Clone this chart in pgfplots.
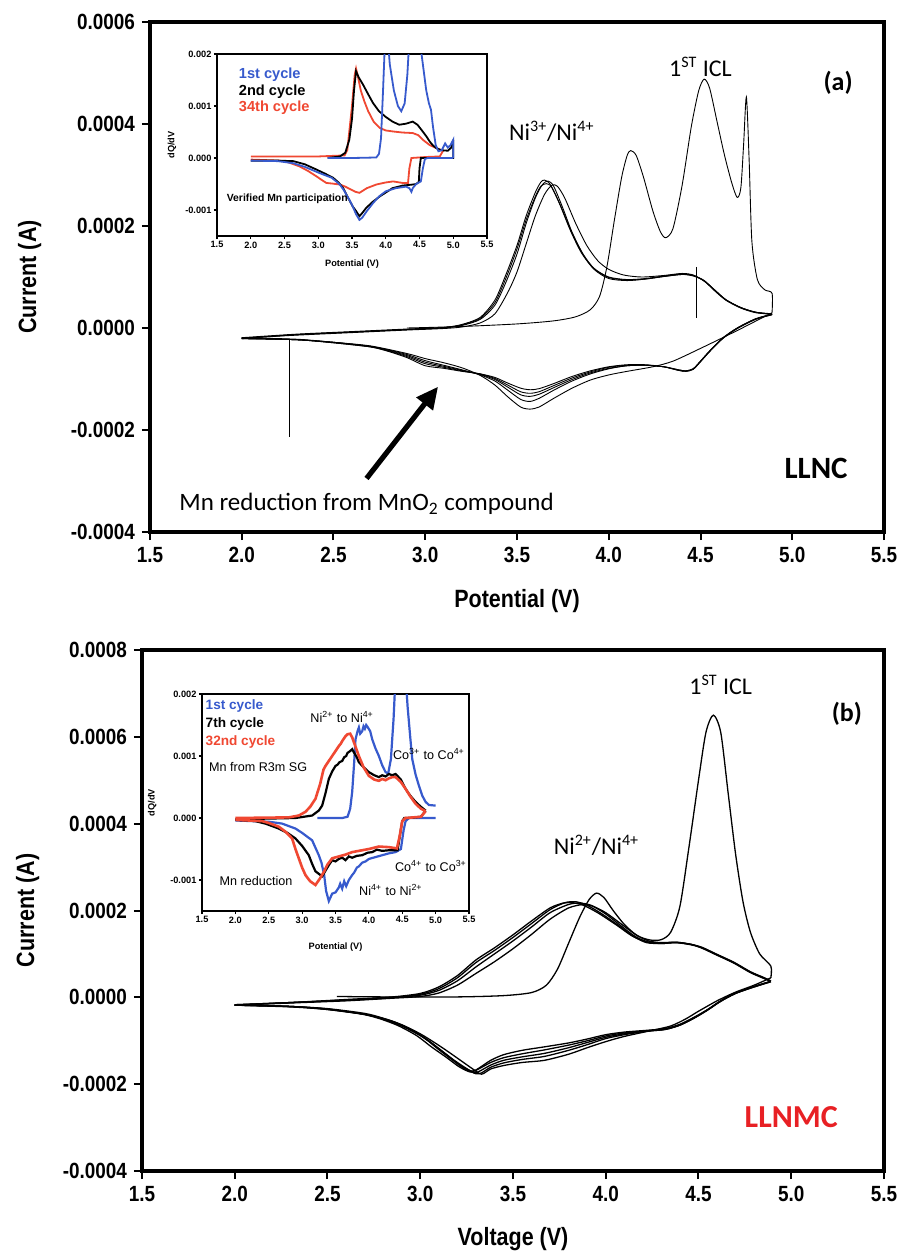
\documentclass[border=0pt]{standalone}
\usepackage{pgfplots}
\pgfplotsset{compat=1.18}
\usepackage{fontspec}
\setmainfont{Liberation Sans}
\newfontfamily\narrowsans[FakeStretch=0.86]{Liberation Sans}
\newfontfamily\calib{Carlito}
\usetikzlibrary{arrows.meta}
\definecolor{cycblue}{RGB}{55,90,205}
\definecolor{cycred}{RGB}{240,72,50}
\definecolor{labred}{RGB}{232,32,36}

\pgfplotsset{
  cvmain/.style={
    scale only axis,
    xmin=1.5, xmax=5.5,
    xtick={1.5,2.0,2.5,3.0,3.5,4.0,4.5,5.0,5.5},
    tick align=outside, tick pos=left,
    major tick length=4pt,
    axis line style={line width=2pt},
    every tick/.style={black, line width=1pt},
    /pgf/number format/assume math mode=true,
    ticklabel style={font=\narrowsans\bfseries\fontsize{11}{13}\selectfont},
    xticklabel style={/pgf/number format/fixed, /pgf/number format/fixed zerofill, /pgf/number format/precision=1},
    yticklabel style={/pgf/number format/fixed, /pgf/number format/fixed zerofill, /pgf/number format/precision=4},
    scaled y ticks=false,
    label style={font=\narrowsans\bfseries\fontsize{12.5}{14}\selectfont},
  },
  cvinset/.style={
    scale only axis,
    xmin=1.5, xmax=5.5, ymin=-0.0015, ymax=0.002,
    xtick={1.5,2.0,2.5,3.0,3.5,4.0,4.5,5.0,5.5},
    ytick={-0.001,0,0.001,0.002},
    tick align=outside, tick pos=left,
    major tick length=1.6pt,
    axis line style={line width=1.4pt},
    every tick/.style={black, line width=0.6pt},
    axis background/.style={fill=white},
    /pgf/number format/assume math mode=true,
    ticklabel style={font=\bfseries\fontsize{4.6}{5}\selectfont, inner sep=1pt},
    xticklabel style={/pgf/number format/fixed, /pgf/number format/fixed zerofill, /pgf/number format/precision=1},
    yticklabel style={/pgf/number format/fixed, /pgf/number format/fixed zerofill, /pgf/number format/precision=3},
    scaled y ticks=false,
    label style={font=\bfseries\fontsize{4.6}{5}\selectfont},
  },
  cyc/.style={black, line width=0.45pt, smooth, tension=0.45},
  cycb/.style={black, line width=0.65pt, smooth, tension=0.45},
}

\begin{document}
\begin{tikzpicture}
\path[use as bounding box] (0pt,0pt) rectangle (452pt,-627.5pt);

%% ---------------- panel (a): LLNC ----------------
\begin{axis}[cvmain, at={(75pt,-266pt)}, anchor=south west,
  width=367pt, height=255pt,
  ymin=-0.0004, ymax=0.0006,
  ytick={-0.0004,-0.0002,0,0.0002,0.0004,0.0006},
  xlabel={Potential (V)}, ylabel={Current (A)},
  xlabel style={at={(axis description cs:0.5,-0.135)}, anchor=center},
  ylabel style={at={(axis description cs:-0.164,0.5)}, anchor=center},
]
% first charge
\addplot[cyc] coordinates {(2.90,0.00)(3.20,0.03e-4)(3.50,0.08e-4)(3.70,0.14e-4)(3.82,0.22e-4)(3.90,0.36e-4)(3.95,0.62e-4)(3.99,1.20e-4)(4.03,2.10e-4)(4.07,2.95e-4)(4.10,3.38e-4)(4.12,3.48e-4)(4.15,3.38e-4)(4.19,2.95e-4)(4.24,2.30e-4)(4.28,1.90e-4)(4.31,1.77e-4)(4.35,1.95e-4)(4.40,2.80e-4)(4.45,3.95e-4)(4.49,4.65e-4)(4.52,4.88e-4)(4.55,4.70e-4)(4.59,4.05e-4)(4.63,3.40e-4)(4.67,2.85e-4)(4.70,2.56e-4)(4.72,2.75e-4)(4.735,3.60e-4)(4.75,4.53e-4)(4.765,3.30e-4)(4.78,1.70e-4)(4.81,0.95e-4)(4.85,0.75e-4)(4.89,0.68e-4)(4.89,0.30e-4)};
% first discharge
\addplot[cyc] coordinates {(4.89,0.30e-4)(4.70,-0.05e-4)(4.50,-0.40e-4)(4.35,-0.65e-4)(4.24,-0.76e-4)(4.10,-0.85e-4)(4.00,-0.92e-4)(3.90,-1.02e-4)(3.80,-1.18e-4)(3.70,-1.38e-4)(3.62,-1.55e-4)(3.57,-1.59e-4)(3.52,-1.55e-4)(3.45,-1.35e-4)(3.38,-1.12e-4)(3.30,-0.93e-4)(3.20,-0.78e-4)(3.10,-0.68e-4)(3.00,-0.60e-4)(2.90,-0.50e-4)(2.70,-0.35e-4)(2.50,-0.28e-4)(2.30,-0.22e-4)(2.00,-0.19e-4)};
% later charges
\addplot[cyc] coordinates {(2.00,-0.20e-4)(2.30,-0.14e-4)(2.60,-0.09e-4)(2.90,-0.04e-4)(3.10,-0.01e-4)(3.20,0.02e-4)(3.30,0.10e-4)(3.38,0.28e-4)(3.45,0.70e-4)(3.50,1.10e-4)(3.55,1.65e-4)(3.60,2.20e-4)(3.65,2.62e-4)(3.69,2.80e-4)(3.72,2.78e-4)(3.76,2.55e-4)(3.82,2.05e-4)(3.88,1.62e-4)(3.94,1.32e-4)(4.00,1.15e-4)(4.08,1.04e-4)(4.18,1.00e-4)(4.30,1.03e-4)(4.40,1.07e-4)(4.46,1.04e-4)(4.52,0.92e-4)(4.58,0.74e-4)(4.64,0.55e-4)(4.72,0.40e-4)(4.80,0.31e-4)(4.89,0.27e-4)};
\addplot[cyc] coordinates {(2.00,-0.20e-4)(2.30,-0.13e-4)(2.60,-0.08e-4)(2.90,-0.03e-4)(3.10,0.00)(3.20,0.05e-4)(3.30,0.17e-4)(3.38,0.45e-4)(3.44,0.90e-4)(3.50,1.45e-4)(3.55,2.05e-4)(3.60,2.55e-4)(3.64,2.82e-4)(3.67,2.88e-4)(3.70,2.78e-4)(3.75,2.35e-4)(3.80,1.88e-4)(3.86,1.45e-4)(3.92,1.17e-4)(4.00,1.00e-4)(4.10,0.95e-4)(4.20,0.97e-4)(4.30,1.02e-4)(4.40,1.06e-4)(4.46,1.03e-4)(4.52,0.92e-4)(4.58,0.72e-4)(4.64,0.54e-4)(4.72,0.39e-4)(4.80,0.30e-4)(4.89,0.27e-4)};
\addplot[cyc] coordinates {(2.00,-0.21e-4)(2.30,-0.13e-4)(2.60,-0.08e-4)(2.90,-0.03e-4)(3.10,0.01e-4)(3.20,0.06e-4)(3.30,0.19e-4)(3.38,0.50e-4)(3.44,0.98e-4)(3.50,1.55e-4)(3.55,2.12e-4)(3.60,2.58e-4)(3.63,2.78e-4)(3.66,2.83e-4)(3.69,2.76e-4)(3.74,2.38e-4)(3.80,1.86e-4)(3.86,1.44e-4)(3.92,1.16e-4)(4.00,0.99e-4)(4.10,0.94e-4)(4.20,0.96e-4)(4.30,1.01e-4)(4.40,1.05e-4)(4.46,1.03e-4)(4.52,0.93e-4)(4.58,0.73e-4)(4.64,0.55e-4)(4.72,0.40e-4)(4.80,0.31e-4)(4.89,0.28e-4)};
\addplot[cyc] coordinates {(2.00,-0.19e-4)(2.30,-0.12e-4)(2.60,-0.07e-4)(2.90,-0.02e-4)(3.10,0.01e-4)(3.20,0.07e-4)(3.30,0.21e-4)(3.38,0.55e-4)(3.44,1.05e-4)(3.50,1.62e-4)(3.55,2.20e-4)(3.60,2.66e-4)(3.63,2.86e-4)(3.65,2.90e-4)(3.68,2.82e-4)(3.73,2.45e-4)(3.79,1.92e-4)(3.85,1.48e-4)(3.92,1.15e-4)(4.00,0.97e-4)(4.10,0.93e-4)(4.20,0.96e-4)(4.30,1.01e-4)(4.40,1.05e-4)(4.46,1.02e-4)(4.52,0.93e-4)(4.58,0.73e-4)(4.64,0.55e-4)(4.72,0.40e-4)(4.80,0.31e-4)(4.89,0.27e-4)};
% later discharges
\addplot[cyc] coordinates {(4.89,0.27e-4)(4.80,0.18e-4)(4.70,0.00)(4.62,-0.20e-4)(4.55,-0.45e-4)(4.50,-0.65e-4)(4.46,-0.80e-4)(4.42,-0.84e-4)(4.38,-0.82e-4)(4.30,-0.76e-4)(4.20,-0.73e-4)(4.10,-0.74e-4)(4.00,-0.80e-4)(3.90,-0.90e-4)(3.80,-1.04e-4)(3.70,-1.22e-4)(3.62,-1.38e-4)(3.57,-1.44e-4)(3.52,-1.40e-4)(3.45,-1.22e-4)(3.38,-1.04e-4)(3.30,-0.92e-4)(3.20,-0.82e-4)(3.10,-0.73e-4)(3.00,-0.64e-4)(2.90,-0.52e-4)(2.80,-0.43e-4)(2.70,-0.36e-4)(2.50,-0.28e-4)(2.30,-0.23e-4)(2.00,-0.20e-4)};
\addplot[cyc] coordinates {(4.89,0.27e-4)(4.80,0.18e-4)(4.70,0.00)(4.62,-0.20e-4)(4.55,-0.45e-4)(4.50,-0.65e-4)(4.46,-0.80e-4)(4.42,-0.84e-4)(4.38,-0.82e-4)(4.30,-0.76e-4)(4.20,-0.73e-4)(4.10,-0.74e-4)(4.00,-0.79e-4)(3.90,-0.88e-4)(3.80,-1.01e-4)(3.70,-1.17e-4)(3.62,-1.30e-4)(3.57,-1.34e-4)(3.52,-1.31e-4)(3.45,-1.16e-4)(3.38,-1.01e-4)(3.30,-0.91e-4)(3.20,-0.83e-4)(3.10,-0.75e-4)(3.00,-0.67e-4)(2.90,-0.54e-4)(2.80,-0.44e-4)(2.70,-0.36e-4)(2.50,-0.28e-4)(2.30,-0.23e-4)(2.00,-0.20e-4)};
\addplot[cyc] coordinates {(4.89,0.26e-4)(4.80,0.17e-4)(4.70,-0.01e-4)(4.62,-0.21e-4)(4.55,-0.46e-4)(4.50,-0.66e-4)(4.46,-0.81e-4)(4.42,-0.85e-4)(4.38,-0.83e-4)(4.30,-0.76e-4)(4.20,-0.73e-4)(4.10,-0.73e-4)(4.00,-0.77e-4)(3.90,-0.86e-4)(3.80,-0.98e-4)(3.70,-1.13e-4)(3.62,-1.25e-4)(3.57,-1.28e-4)(3.52,-1.25e-4)(3.45,-1.12e-4)(3.38,-0.99e-4)(3.30,-0.90e-4)(3.20,-0.84e-4)(3.10,-0.77e-4)(3.00,-0.70e-4)(2.90,-0.56e-4)(2.80,-0.45e-4)(2.70,-0.37e-4)(2.50,-0.29e-4)(2.30,-0.23e-4)(2.00,-0.21e-4)};
\addplot[cyc] coordinates {(4.89,0.26e-4)(4.80,0.17e-4)(4.70,-0.01e-4)(4.62,-0.21e-4)(4.55,-0.46e-4)(4.50,-0.66e-4)(4.46,-0.81e-4)(4.42,-0.85e-4)(4.38,-0.83e-4)(4.30,-0.76e-4)(4.20,-0.72e-4)(4.10,-0.72e-4)(4.00,-0.76e-4)(3.90,-0.84e-4)(3.80,-0.95e-4)(3.70,-1.09e-4)(3.62,-1.19e-4)(3.57,-1.21e-4)(3.52,-1.18e-4)(3.45,-1.08e-4)(3.38,-0.97e-4)(3.30,-0.90e-4)(3.20,-0.85e-4)(3.10,-0.79e-4)(3.00,-0.74e-4)(2.90,-0.58e-4)(2.80,-0.46e-4)(2.70,-0.37e-4)(2.50,-0.29e-4)(2.30,-0.23e-4)(2.00,-0.21e-4)};
% spikes
\addplot[black, line width=0.45pt] coordinates {(2.26,-0.21e-4)(2.26,-2.14e-4)};
\addplot[black, line width=0.45pt] coordinates {(4.48,1.20e-4)(4.48,0.20e-4)};
% annotations
\node[font=\calib\fontsize{12}{13}\selectfont] at (axis cs:4.50,5.12e-4) {1\textsuperscript{ST} ICL};
\node[font=\calib\bfseries\fontsize{13}{14}\selectfont] at (axis cs:5.25,4.80e-4) {(a)};
\node[font=\calib\fontsize{12}{13}\selectfont] at (axis cs:3.69,3.86e-4) {Ni\textsuperscript{3+}/Ni\textsuperscript{4+}};
\node[font=\calib\bfseries\fontsize{15.5}{17}\selectfont] at (axis cs:5.13,-2.75e-4) {LLNC};
\node[font=\calib\fontsize{12.5}{14}\selectfont] at (axis cs:2.68,-3.45e-4) {Mn reduction from MnO\textsubscript{2} compound};
\draw[-{Triangle[length=11pt,width=10pt]}, line width=2.6pt] (axis cs:2.68,-2.95e-4) -- (axis cs:3.07,-1.15e-4);
\end{axis}

%% inset (a): dQ/dV
\begin{axis}[cvinset, at={(108.5pt,-118pt)}, anchor=south west,
  width=135pt, height=91pt,
  xlabel={Potential (V)}, ylabel={dQ/dV},
  xlabel style={at={(axis description cs:0.5,-0.155)}, anchor=center},
  ylabel style={at={(axis description cs:-0.167,0.5)}, anchor=center},
]
% 34th cycle
\addplot[cycred, line width=0.9pt] coordinates {(2.00,0.03e-3)(3.00,0.03e-3)(3.39,0.05e-3)(3.43,0.15e-3)(3.46,0.51e-3)(3.50,1.00e-3)(3.54,1.60e-3)(3.56,1.72e-3)(3.59,1.55e-3)(3.63,1.30e-3)(3.68,1.10e-3)(3.74,0.90e-3)(3.82,0.70e-3)(3.91,0.58e-3)(4.00,0.53e-3)(4.11,0.51e-3)(4.25,0.49e-3)(4.40,0.48e-3)(4.48,0.44e-3)(4.55,0.35e-3)(4.65,0.25e-3)(4.75,0.19e-3)(4.85,0.14e-3)};
\addplot[cycred, line width=0.9pt] coordinates {(4.85,0.14e-3)(4.80,0.03e-3)(4.60,0.02e-3)(4.38,0.00)(4.35,-0.20e-3)(4.33,-0.48e-3)(4.25,-0.48e-3)(4.11,-0.45e-3)(4.00,-0.47e-3)(3.86,-0.51e-3)(3.72,-0.58e-3)(3.61,-0.67e-3)(3.55,-0.65e-3)(3.49,-0.61e-3)(3.40,-0.55e-3)(3.32,-0.51e-3)(3.20,-0.49e-3)(3.12,-0.48e-3)(3.05,-0.42e-3)(2.97,-0.35e-3)(2.85,-0.25e-3)(2.72,-0.16e-3)(2.55,-0.08e-3)(2.43,-0.05e-3)(2.00,-0.03e-3)};
% 2nd cycle
\addplot[black, line width=0.9pt] coordinates {(3.14,0.00)(3.32,0.03e-3)(3.40,0.10e-3)(3.46,0.35e-3)(3.50,0.75e-3)(3.53,1.30e-3)(3.56,1.67e-3)(3.60,1.55e-3)(3.66,1.42e-3)(3.73,1.25e-3)(3.81,1.06e-3)(3.90,0.90e-3)(4.00,0.79e-3)(4.10,0.70e-3)(4.20,0.64e-3)(4.30,0.66e-3)(4.40,0.70e-3)(4.47,0.64e-3)(4.53,0.54e-3)(4.60,0.42e-3)(4.65,0.32e-3)(4.70,0.24e-3)(4.75,0.19e-3)(4.82,0.15e-3)(4.92,0.14e-3)(4.97,0.20e-3)(5.00,0.35e-3)};
\addplot[black, line width=0.9pt] coordinates {(5.00,0.35e-3)(5.00,0.00)(4.52,0.00)(4.50,-0.20e-3)(4.49,-0.46e-3)(4.45,-0.50e-3)(4.40,-0.51e-3)(4.25,-0.53e-3)(4.10,-0.58e-3)(3.91,-0.74e-3)(3.80,-0.85e-3)(3.71,-0.96e-3)(3.65,-1.06e-3)(3.61,-1.12e-3)(3.56,-1.02e-3)(3.51,-0.93e-3)(3.44,-0.76e-3)(3.37,-0.58e-3)(3.30,-0.47e-3)(3.22,-0.38e-3)(3.10,-0.30e-3)(2.97,-0.22e-3)(2.80,-0.12e-3)(2.63,-0.06e-3)(2.40,-0.05e-3)(2.00,-0.05e-3)};
% 1st cycle
\addplot[cycblue, line width=0.9pt] coordinates {(3.14,0.00)(3.50,0.00)(3.86,0.01e-3)(3.90,0.08e-3)(3.93,0.38e-3)(3.96,1.30e-3)(3.99,2.30e-3)(4.01,2.60e-3)(4.03,2.30e-3)(4.06,1.80e-3)(4.12,1.30e-3)(4.18,1.00e-3)(4.23,0.90e-3)(4.28,1.05e-3)(4.32,1.60e-3)(4.35,2.30e-3)(4.42,2.80e-3)(4.50,2.40e-3)(4.53,2.00e-3)(4.56,1.70e-3)(4.60,1.30e-3)(4.64,1.05e-3)(4.67,0.93e-3)(4.70,0.60e-3)(4.74,0.25e-3)(4.78,0.13e-3)(4.83,0.15e-3)(4.88,0.28e-3)(4.92,0.20e-3)(4.96,0.25e-3)(5.00,0.35e-3)(5.00,0.00)};
\addplot[cycblue, line width=0.9pt] coordinates {(5.00,0.00)(4.62,0.00)(4.58,-0.02e-3)(4.55,-0.20e-3)(4.52,-0.45e-3)(4.45,-0.50e-3)(4.40,-0.58e-3)(4.38,-0.65e-3)(4.35,-0.58e-3)(4.30,-0.55e-3)(4.15,-0.58e-3)(4.00,-0.64e-3)(3.90,-0.74e-3)(3.81,-0.87e-3)(3.72,-1.02e-3)(3.65,-1.15e-3)(3.61,-1.19e-3)(3.56,-1.08e-3)(3.50,-0.90e-3)(3.45,-0.78e-3)(3.38,-0.62e-3)(3.32,-0.51e-3)(3.20,-0.38e-3)(3.02,-0.29e-3)(2.80,-0.17e-3)(2.63,-0.10e-3)(2.40,-0.06e-3)(2.00,-0.05e-3)};
\node[anchor=west, font=\bfseries\fontsize{7.3}{8}\selectfont, text=cycblue] at (axis cs:1.72,1.60e-3) {1st cycle};
\node[anchor=west, font=\bfseries\fontsize{7.3}{8}\selectfont] at (axis cs:1.72,1.28e-3) {2nd cycle};
\node[anchor=west, font=\bfseries\fontsize{7.3}{8}\selectfont, text=cycred] at (axis cs:1.72,0.97e-3) {34th cycle};
\node[anchor=west, font=\bfseries\fontsize{5.2}{6}\selectfont, inner sep=0pt] at (axis cs:1.64,-0.79e-3) {Verified Mn participation};
\end{axis}

%% ---------------- panel (b): LLNMC ----------------
\begin{axis}[cvmain, at={(71pt,-585.5pt)}, anchor=south west,
  width=371pt, height=260.5pt,
  ymin=-0.0004, ymax=0.0008,
  ytick={-0.0004,-0.0002,0,0.0002,0.0004,0.0006,0.0008},
  xlabel={Voltage (V)}, ylabel={Current (A)},
  xlabel style={at={(axis description cs:0.5,-0.13)}, anchor=center},
  ylabel style={at={(axis description cs:-0.154,0.5)}, anchor=center},
]
% first charge
\addplot[cycb] coordinates {(2.55,0.02e-4)(2.80,0.01e-4)(3.20,0.01e-4)(3.45,0.04e-4)(3.60,0.11e-4)(3.68,0.28e-4)(3.74,0.65e-4)(3.80,1.25e-4)(3.86,1.85e-4)(3.91,2.25e-4)(3.95,2.40e-4)(3.99,2.30e-4)(4.04,2.00e-4)(4.10,1.68e-4)(4.17,1.42e-4)(4.24,1.32e-4)(4.30,1.33e-4)(4.35,1.50e-4)(4.40,2.10e-4)(4.45,3.50e-4)(4.50,5.00e-4)(4.54,6.10e-4)(4.58,6.50e-4)(4.62,6.10e-4)(4.66,4.70e-4)(4.70,3.30e-4)(4.74,2.20e-4)(4.78,1.50e-4)(4.83,1.00e-4)(4.89,0.72e-4)(4.89,0.45e-4)};
% first discharge
\addplot[cycb] coordinates {(4.89,0.45e-4)(4.80,0.28e-4)(4.70,0.12e-4)(4.60,-0.08e-4)(4.50,-0.32e-4)(4.43,-0.50e-4)(4.35,-0.66e-4)(4.25,-0.76e-4)(4.10,-0.90e-4)(4.00,-1.02e-4)(3.90,-1.16e-4)(3.80,-1.31e-4)(3.67,-1.45e-4)(3.55,-1.50e-4)(3.45,-1.57e-4)(3.38,-1.65e-4)(3.33,-1.77e-4)(3.28,-1.64e-4)(3.22,-1.46e-4)(3.15,-1.25e-4)(3.08,-1.05e-4)(3.00,-0.84e-4)(2.90,-0.63e-4)(2.80,-0.48e-4)(2.70,-0.37e-4)(2.50,-0.26e-4)(2.30,-0.21e-4)(2.00,-0.18e-4)};
% later charges
\addplot[cycb] coordinates {(2.00,-0.17e-4)(2.30,-0.12e-4)(2.60,-0.06e-4)(2.85,0.00)(3.00,0.07e-4)(3.10,0.20e-4)(3.20,0.45e-4)(3.30,0.80e-4)(3.40,1.08e-4)(3.50,1.38e-4)(3.60,1.70e-4)(3.70,2.02e-4)(3.78,2.18e-4)(3.84,2.20e-4)(3.90,2.12e-4)(3.98,1.92e-4)(4.08,1.62e-4)(4.15,1.40e-4)(4.22,1.26e-4)(4.30,1.24e-4)(4.38,1.26e-4)(4.46,1.22e-4)(4.52,1.14e-4)(4.60,0.98e-4)(4.69,0.80e-4)(4.78,0.58e-4)(4.85,0.45e-4)(4.89,0.37e-4)};
\addplot[cycb] coordinates {(2.00,-0.18e-4)(2.30,-0.12e-4)(2.60,-0.05e-4)(2.85,0.01e-4)(3.00,0.09e-4)(3.10,0.24e-4)(3.20,0.50e-4)(3.30,0.86e-4)(3.40,1.14e-4)(3.50,1.44e-4)(3.60,1.76e-4)(3.70,2.06e-4)(3.77,2.17e-4)(3.82,2.18e-4)(3.88,2.12e-4)(3.96,1.94e-4)(4.06,1.66e-4)(4.14,1.42e-4)(4.22,1.28e-4)(4.30,1.25e-4)(4.38,1.27e-4)(4.46,1.22e-4)(4.52,1.13e-4)(4.60,0.97e-4)(4.69,0.79e-4)(4.78,0.57e-4)(4.85,0.44e-4)(4.89,0.37e-4)};
\addplot[cycb] coordinates {(2.00,-0.17e-4)(2.30,-0.12e-4)(2.60,-0.07e-4)(2.85,-0.01e-4)(3.00,0.05e-4)(3.10,0.16e-4)(3.20,0.38e-4)(3.30,0.70e-4)(3.40,1.00e-4)(3.50,1.30e-4)(3.60,1.62e-4)(3.70,1.95e-4)(3.80,2.14e-4)(3.86,2.17e-4)(3.92,2.12e-4)(4.00,1.92e-4)(4.09,1.62e-4)(4.16,1.40e-4)(4.23,1.27e-4)(4.30,1.24e-4)(4.38,1.26e-4)(4.46,1.21e-4)(4.52,1.14e-4)(4.60,0.98e-4)(4.69,0.80e-4)(4.78,0.58e-4)(4.85,0.45e-4)(4.89,0.37e-4)};
\addplot[cycb] coordinates {(2.00,-0.18e-4)(2.30,-0.13e-4)(2.60,-0.08e-4)(2.85,-0.02e-4)(3.00,0.02e-4)(3.10,0.10e-4)(3.20,0.28e-4)(3.30,0.55e-4)(3.40,0.82e-4)(3.50,1.12e-4)(3.60,1.45e-4)(3.70,1.80e-4)(3.80,2.06e-4)(3.88,2.14e-4)(3.93,2.10e-4)(4.00,1.95e-4)(4.08,1.70e-4)(4.16,1.45e-4)(4.23,1.30e-4)(4.30,1.26e-4)(4.38,1.27e-4)(4.46,1.22e-4)(4.52,1.15e-4)(4.60,0.99e-4)(4.69,0.81e-4)(4.78,0.59e-4)(4.85,0.46e-4)(4.89,0.38e-4)};
% later discharges
\addplot[cycb] coordinates {(4.89,0.37e-4)(4.80,0.25e-4)(4.70,0.10e-4)(4.62,-0.08e-4)(4.55,-0.28e-4)(4.48,-0.45e-4)(4.40,-0.62e-4)(4.32,-0.72e-4)(4.22,-0.76e-4)(4.10,-0.80e-4)(4.00,-0.86e-4)(3.90,-0.96e-4)(3.80,-1.05e-4)(3.67,-1.14e-4)(3.55,-1.22e-4)(3.45,-1.32e-4)(3.38,-1.45e-4)(3.32,-1.62e-4)(3.28,-1.70e-4)(3.22,-1.58e-4)(3.15,-1.35e-4)(3.08,-1.12e-4)(3.00,-0.88e-4)(2.90,-0.66e-4)(2.80,-0.50e-4)(2.70,-0.39e-4)(2.50,-0.27e-4)(2.30,-0.21e-4)(2.00,-0.17e-4)};
\addplot[cycb] coordinates {(4.89,0.37e-4)(4.80,0.25e-4)(4.70,0.10e-4)(4.62,-0.08e-4)(4.55,-0.28e-4)(4.48,-0.46e-4)(4.40,-0.63e-4)(4.32,-0.73e-4)(4.22,-0.77e-4)(4.10,-0.82e-4)(4.00,-0.89e-4)(3.90,-1.00e-4)(3.80,-1.10e-4)(3.67,-1.21e-4)(3.55,-1.30e-4)(3.45,-1.39e-4)(3.38,-1.50e-4)(3.31,-1.66e-4)(3.27,-1.72e-4)(3.21,-1.60e-4)(3.14,-1.38e-4)(3.06,-1.14e-4)(2.98,-0.88e-4)(2.88,-0.65e-4)(2.78,-0.49e-4)(2.68,-0.38e-4)(2.50,-0.28e-4)(2.30,-0.21e-4)(2.00,-0.18e-4)};
\addplot[cycb] coordinates {(4.89,0.36e-4)(4.80,0.24e-4)(4.70,0.09e-4)(4.62,-0.09e-4)(4.55,-0.29e-4)(4.48,-0.47e-4)(4.40,-0.64e-4)(4.32,-0.74e-4)(4.22,-0.78e-4)(4.10,-0.84e-4)(4.00,-0.92e-4)(3.90,-1.04e-4)(3.80,-1.16e-4)(3.67,-1.29e-4)(3.55,-1.37e-4)(3.45,-1.45e-4)(3.38,-1.56e-4)(3.32,-1.70e-4)(3.29,-1.74e-4)(3.23,-1.62e-4)(3.16,-1.40e-4)(3.09,-1.17e-4)(3.02,-0.93e-4)(2.92,-0.69e-4)(2.82,-0.52e-4)(2.70,-0.39e-4)(2.50,-0.27e-4)(2.30,-0.21e-4)(2.00,-0.18e-4)};
\addplot[cycb] coordinates {(4.89,0.36e-4)(4.80,0.24e-4)(4.70,0.09e-4)(4.62,-0.09e-4)(4.55,-0.29e-4)(4.48,-0.47e-4)(4.40,-0.64e-4)(4.32,-0.74e-4)(4.22,-0.78e-4)(4.10,-0.86e-4)(4.00,-0.95e-4)(3.90,-1.09e-4)(3.80,-1.22e-4)(3.67,-1.36e-4)(3.55,-1.43e-4)(3.45,-1.51e-4)(3.38,-1.61e-4)(3.33,-1.74e-4)(3.30,-1.76e-4)(3.25,-1.64e-4)(3.18,-1.44e-4)(3.11,-1.21e-4)(3.04,-0.98e-4)(2.95,-0.74e-4)(2.85,-0.55e-4)(2.72,-0.41e-4)(2.50,-0.28e-4)(2.30,-0.22e-4)(2.00,-0.18e-4)};
% annotations
\node[font=\calib\fontsize{12}{13}\selectfont] at (axis cs:4.62,7.20e-4) {1\textsuperscript{ST} ICL};
\node[font=\calib\bfseries\fontsize{13}{14}\selectfont] at (axis cs:5.30,6.53e-4) {(b)};
\node[font=\calib\fontsize{12}{13}\selectfont] at (axis cs:3.95,3.50e-4) {Ni\textsuperscript{2+}/Ni\textsuperscript{4+}};
\node[font=\calib\bfseries\fontsize{16}{18}\selectfont, text=labred] at (axis cs:5.00,-2.75e-4) {LLNMC};
\end{axis}

%% inset (b): dQ/dV
\begin{axis}[cvinset, at={(101pt,-455.5pt)}, anchor=south west,
  width=133.5pt, height=108.5pt,
  xlabel={Potential (V)}, ylabel={dQ/dV},
  xlabel style={at={(axis description cs:0.5,-0.166)}, anchor=center},
  ylabel style={at={(axis description cs:-0.187,0.5)}, anchor=center},
]
% 1st cycle
\addplot[cycblue, line width=1.1pt] coordinates {(3.23,0.00)(3.60,0.00)(3.68,0.02e-3)(3.72,0.15e-3)(3.75,0.42e-3)(3.78,0.90e-3)(3.80,1.27e-3)(3.83,1.40e-3)(3.85,1.46e-3)(3.87,1.36e-3)(3.90,1.40e-3)(3.92,1.48e-3)(3.94,1.44e-3)(3.96,1.50e-3)(3.98,1.47e-3)(4.02,1.40e-3)(4.05,1.27e-3)(4.10,1.12e-3)(4.15,1.00e-3)(4.20,0.85e-3)(4.25,0.74e-3)(4.29,0.72e-3)(4.33,0.95e-3)(4.37,1.60e-3)(4.40,2.30e-3)(4.48,2.80e-3)(4.55,2.30e-3)(4.58,1.80e-3)(4.62,1.30e-3)(4.65,0.95e-3)(4.70,0.70e-3)(4.75,0.52e-3)(4.80,0.36e-3)(4.85,0.26e-3)(4.90,0.21e-3)(5.00,0.20e-3)};
\addplot[cycblue, line width=1.1pt] coordinates {(5.00,0.00)(4.60,0.00)(4.55,-0.05e-3)(4.52,-0.20e-3)(4.48,-0.50e-3)(4.40,-0.55e-3)(4.30,-0.57e-3)(4.20,-0.60e-3)(4.10,-0.63e-3)(4.00,-0.66e-3)(3.95,-0.70e-3)(3.90,-0.72e-3)(3.85,-0.78e-3)(3.82,-0.80e-3)(3.78,-0.88e-3)(3.75,-0.92e-3)(3.70,-1.00e-3)(3.66,-1.10e-3)(3.63,-1.02e-3)(3.60,-1.14e-3)(3.57,-1.06e-3)(3.55,-1.12e-3)(3.50,-1.20e-3)(3.45,-1.22e-3)(3.40,-1.34e-3)(3.36,-1.18e-3)(3.33,-0.92e-3)(3.29,-0.72e-3)(3.25,-0.60e-3)(3.15,-0.36e-3)(3.00,-0.24e-3)(2.90,-0.17e-3)(2.70,-0.09e-3)(2.50,-0.06e-3)(2.00,-0.04e-3)};
% 7th cycle
\addplot[black, line width=1.1pt] coordinates {(2.00,-0.02e-3)(2.90,0.00)(3.15,0.04e-3)(3.25,0.12e-3)(3.30,0.20e-3)(3.35,0.40e-3)(3.40,0.63e-3)(3.45,0.75e-3)(3.50,0.84e-3)(3.53,0.86e-3)(3.56,0.90e-3)(3.60,0.92e-3)(3.63,0.98e-3)(3.66,1.00e-3)(3.68,1.05e-3)(3.72,1.08e-3)(3.75,1.11e-3)(3.78,1.05e-3)(3.82,0.98e-3)(3.85,0.90e-3)(3.92,0.82e-3)(4.00,0.74e-3)(4.08,0.69e-3)(4.15,0.66e-3)(4.20,0.69e-3)(4.25,0.67e-3)(4.30,0.71e-3)(4.35,0.69e-3)(4.40,0.71e-3)(4.48,0.62e-3)(4.55,0.47e-3)(4.62,0.36e-3)(4.70,0.26e-3)(4.78,0.18e-3)(4.85,0.12e-3)};
\addplot[black, line width=1.1pt] coordinates {(4.85,0.12e-3)(4.78,0.02e-3)(4.60,0.00)(4.53,0.00)(4.50,-0.05e-3)(4.47,-0.25e-3)(4.43,-0.52e-3)(4.30,-0.52e-3)(4.20,-0.53e-3)(4.12,-0.51e-3)(4.05,-0.55e-3)(3.98,-0.56e-3)(3.90,-0.60e-3)(3.82,-0.61e-3)(3.75,-0.64e-3)(3.70,-0.62e-3)(3.65,-0.68e-3)(3.60,-0.64e-3)(3.55,-0.66e-3)(3.50,-0.70e-3)(3.45,-0.68e-3)(3.40,-0.76e-3)(3.35,-0.85e-3)(3.30,-0.94e-3)(3.25,-0.90e-3)(3.20,-0.86e-3)(3.15,-0.74e-3)(3.10,-0.60e-3)(3.00,-0.45e-3)(2.90,-0.33e-3)(2.78,-0.24e-3)(2.65,-0.17e-3)(2.45,-0.09e-3)(2.30,-0.05e-3)(2.00,-0.03e-3)};
% 32nd cycle
\addplot[cycred, line width=1.3pt] coordinates {(2.00,0.00)(2.80,0.01e-3)(2.95,0.04e-3)(3.05,0.10e-3)(3.12,0.18e-3)(3.20,0.31e-3)(3.27,0.55e-3)(3.32,0.78e-3)(3.35,0.84e-3)(3.40,0.92e-3)(3.45,1.00e-3)(3.50,1.08e-3)(3.55,1.16e-3)(3.58,1.20e-3)(3.60,1.24e-3)(3.65,1.32e-3)(3.68,1.35e-3)(3.72,1.36e-3)(3.75,1.30e-3)(3.80,1.15e-3)(3.85,1.00e-3)(3.92,0.82e-3)(4.00,0.68e-3)(4.08,0.62e-3)(4.15,0.60e-3)(4.20,0.63e-3)(4.25,0.61e-3)(4.30,0.64e-3)(4.35,0.66e-3)(4.40,0.66e-3)(4.48,0.58e-3)(4.55,0.47e-3)(4.62,0.35e-3)(4.70,0.23e-3)(4.78,0.15e-3)(4.85,0.11e-3)};
\addplot[cycred, line width=1.3pt] coordinates {(4.85,0.11e-3)(4.78,0.02e-3)(4.55,0.00)(4.50,-0.05e-3)(4.46,-0.30e-3)(4.42,-0.49e-3)(4.30,-0.47e-3)(4.15,-0.46e-3)(4.00,-0.50e-3)(3.90,-0.52e-3)(3.75,-0.55e-3)(3.65,-0.59e-3)(3.55,-0.62e-3)(3.45,-0.65e-3)(3.38,-0.75e-3)(3.33,-0.86e-3)(3.27,-0.97e-3)(3.20,-1.08e-3)(3.12,-1.02e-3)(3.05,-0.92e-3)(3.00,-0.80e-3)(2.95,-0.65e-3)(2.90,-0.50e-3)(2.85,-0.33e-3)(2.75,-0.22e-3)(2.65,-0.14e-3)(2.50,-0.08e-3)(2.40,-0.05e-3)(2.00,-0.03e-3)};
\node[anchor=west, font=\bfseries\fontsize{6.8}{7.5}\selectfont, text=cycblue, inner sep=0pt] at (axis cs:1.55,1.80e-3) {1st cycle};
\node[anchor=west, font=\bfseries\fontsize{6.8}{7.5}\selectfont, inner sep=0pt] at (axis cs:1.55,1.51e-3) {7th cycle};
\node[anchor=west, font=\bfseries\fontsize{6.8}{7.5}\selectfont, text=cycred, inner sep=0pt] at (axis cs:1.55,1.22e-3) {32nd cycle};
\node[anchor=west, font=\fontsize{6.3}{7}\selectfont, inner sep=0pt] at (axis cs:1.60,0.82e-3) {Mn from R3m SG};
\node[font=\fontsize{6.3}{7}\selectfont] at (axis cs:3.60,1.63e-3) {Ni\textsuperscript{2+} to Ni\textsuperscript{4+}};
\node[font=\fontsize{6.3}{7}\selectfont] at (axis cs:4.90,1.03e-3) {Co\textsuperscript{3+} to Co\textsuperscript{4+}};
\node[font=\fontsize{6.3}{7}\selectfont] at (axis cs:4.93,-0.78e-3) {Co\textsuperscript{4+} to Co\textsuperscript{3+}};
\node[font=\fontsize{6.3}{7}\selectfont] at (axis cs:4.33,-1.16e-3) {Ni\textsuperscript{4+} to Ni\textsuperscript{2+}};
\node[font=\fontsize{6.3}{7}\selectfont] at (axis cs:2.31,-1.02e-3) {Mn reduction};
\end{axis}
\end{tikzpicture}
\end{document}
